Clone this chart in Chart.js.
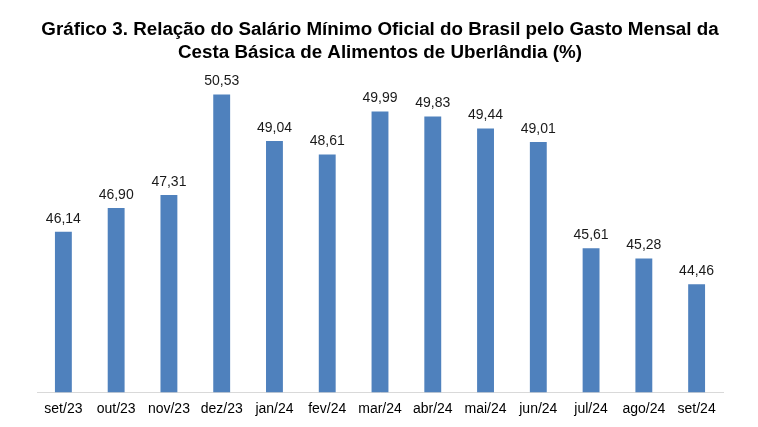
<!DOCTYPE html>
<html>
<head>
<meta charset="utf-8">
<script src="https://cdn.jsdelivr.net/npm/chart.js@4"></script>
<style>
  html, body { margin: 0; padding: 0; background: #fff; }
  #wrap { width: 758px; height: 427px; }
</style>
</head>
<body>
<div id="wrap"><canvas id="myChart" width="758" height="427"></canvas></div>
<script>
var meses = ["set/23", "out/23", "nov/23", "dez/23", "jan/24", "fev/24", "mar/24",
  "abr/24", "mai/24", "jun/24", "jul/24", "ago/24", "set/24"];
var valores = [46.14, 46.90, 47.31, 50.53, 49.04, 48.61, 49.99, 49.83, 49.44, 49.01, 45.61, 45.28, 44.46];
var titulo = ["Gráfico 3. Relação do Salário Mínimo Oficial do Brasil pelo Gasto Mensal da",
  "Cesta Básica de Alimentos de Uberlândia (%)"];

// rotulos de valor em cima das barras
var valueLabels = {
  id: "valueLabels",
  afterDatasetsDraw: function (chart) {
    var ctx = chart.ctx;
    var meta = chart.getDatasetMeta(0);
    ctx.save();
    ctx.font = "14px 'Liberation Sans', Arial, sans-serif";
    ctx.fillStyle = "#1a1a1a";
    ctx.textAlign = "center";
    ctx.textBaseline = "bottom";
    meta.data.forEach(function (bar, i) {
      var txt = valores[i].toFixed(2).replace(".", ",");
      ctx.fillText(txt, bar.x, bar.y - 6);
    });
    ctx.restore();
  }
};

var ctx = document.getElementById("myChart").getContext("2d");
var myChart = new Chart(ctx, {
  type: "bar",
  data: {
    labels: meses,
    datasets: [{
      data: valores,
      backgroundColor: "#4f81bd",
      barPercentage: 0.32,
      categoryPercentage: 1.0
    }]
  },
  options: {
    responsive: false,
    animation: false,
    layout: { padding: { left: 37, right: 35, top: 0, bottom: 0 } },
    plugins: {
      legend: { display: false },
      tooltip: { enabled: false },
      title: {
        display: true,
        text: titulo,
        color: "#000",
        font: { family: "'Liberation Sans Narrow', 'Arial Narrow', 'Liberation Sans', Arial, sans-serif", size: 18.8, weight: "bold", lineHeight: 1.22 },
        padding: { top: 18, bottom: 16 }
      }
    },
    scales: {
      x: {
        grid: { display: false, drawTicks: false },
        border: { display: true, color: "#d9d9d9", width: 1 },
        ticks: {
          color: "#000",
          padding: 9,
          font: { family: "'Liberation Sans', Arial, sans-serif", size: 14 }
        }
      },
      y: {
        display: false,
        min: 41,
        max: 51
      }
    }
  },
  plugins: [valueLabels]
});
</script>
</body>
</html>
